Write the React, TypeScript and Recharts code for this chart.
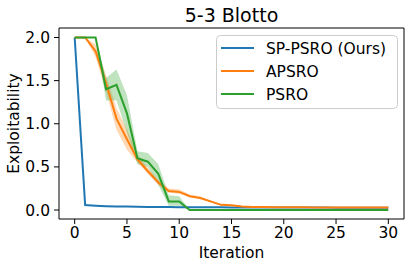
import React from 'react';
import { ComposedChart, Line, Area, XAxis, YAxis, ReferenceArea } from 'recharts';

const iterations = [0, 1, 2, 3, 4, 5, 6, 7, 8, 9, 10, 11, 12, 13, 14, 15, 16, 17, 18, 19, 20, 21, 22, 23, 24, 25, 26, 27, 28, 29, 30];

const spPsro = [2.0, 0.057, 0.05, 0.045, 0.042, 0.04, 0.038, 0.036, 0.035, 0.034, 0.033, 0.032, 0.032, 0.031, 0.031, 0.03, 0.03, 0.03, 0.029, 0.029, 0.029, 0.028, 0.028, 0.028, 0.028, 0.027, 0.027, 0.027, 0.027, 0.027, 0.027];
const spPsroLo = [2.0, 0.054, 0.047, 0.042, 0.04, 0.038, 0.036, 0.034, 0.033, 0.032, 0.031, 0.03, 0.03, 0.029, 0.029, 0.028, 0.028, 0.028, 0.027, 0.027, 0.027, 0.026, 0.026, 0.026, 0.026, 0.025, 0.025, 0.025, 0.025, 0.025, 0.025];
const spPsroHi = [2.0, 0.06, 0.053, 0.048, 0.044, 0.042, 0.04, 0.038, 0.037, 0.036, 0.035, 0.034, 0.034, 0.033, 0.033, 0.032, 0.032, 0.032, 0.031, 0.031, 0.031, 0.03, 0.03, 0.03, 0.03, 0.029, 0.029, 0.029, 0.029, 0.029, 0.029];

const apsro = [2.0, 2.0, 1.84, 1.47, 1.06, 0.82, 0.59, 0.45, 0.32, 0.22, 0.21, 0.16, 0.14, 0.1, 0.06, 0.055, 0.04, 0.036, 0.034, 0.033, 0.032, 0.031, 0.031, 0.03, 0.03, 0.029, 0.029, 0.029, 0.028, 0.028, 0.028];
const apsroLo = [2.0, 2.0, 1.77, 1.37, 0.93, 0.7, 0.55, 0.42, 0.29, 0.2, 0.19, 0.15, 0.13, 0.09, 0.055, 0.05, 0.035, 0.032, 0.031, 0.03, 0.029, 0.028, 0.028, 0.027, 0.027, 0.026, 0.026, 0.026, 0.025, 0.025, 0.025];
const apsroHi = [2.0, 2.0, 1.92, 1.56, 1.18, 0.94, 0.64, 0.49, 0.35, 0.25, 0.24, 0.18, 0.16, 0.11, 0.07, 0.06, 0.045, 0.04, 0.037, 0.036, 0.035, 0.034, 0.034, 0.033, 0.033, 0.032, 0.032, 0.032, 0.031, 0.031, 0.031];

const psro = [2.0, 2.0, 2.0, 1.4, 1.45, 1.12, 0.6, 0.56, 0.42, 0.1, 0.1, 0.0, 0.0, 0.0, 0.0, 0.0, 0.0, 0.0, 0.0, 0.0, 0.0, 0.0, 0.0, 0.0, 0.0, 0.0, 0.0, 0.0, 0.0, 0.0, 0.0];
const psroLo = [2.0, 2.0, 2.0, 1.27, 1.27, 0.9, 0.53, 0.5, 0.29, 0.05, 0.05, 0.0, 0.0, 0.0, 0.0, 0.0, 0.0, 0.0, 0.0, 0.0, 0.0, 0.0, 0.0, 0.0, 0.0, 0.0, 0.0, 0.0, 0.0, 0.0, 0.0];
const psroHi = [2.0, 2.0, 2.0, 1.53, 1.63, 1.33, 0.68, 0.66, 0.53, 0.17, 0.16, 0.0, 0.0, 0.0, 0.0, 0.0, 0.0, 0.0, 0.0, 0.0, 0.0, 0.0, 0.0, 0.0, 0.0, 0.0, 0.0, 0.0, 0.0, 0.0, 0.0];

const xTicks = [0, 5, 10, 15, 20, 25, 30];
const yTicks = [0, 0.5, 1.0, 1.5, 2.0];
const seriesNames = ['SP-PSRO (Ours)', 'APSRO', 'PSRO'];
const seriesColors = ['#1f77b4', '#ff7f0e', '#2ca02c'];
const titleText = '5-3 Blotto';
const xLabel = 'Iteration';
const yLabel = 'Exploitability';

const data = iterations.map((it, i) => ({
  it,
  sp: spPsro[i],
  spBand: [spPsroLo[i], spPsroHi[i]],
  ap: apsro[i],
  apBand: [apsroLo[i], apsroHi[i]],
  ps: psro[i],
  psBand: [psroLo[i], psroHi[i]],
}));

const FONT = 'DejaVu Sans, sans-serif';
const X_DOMAIN: [number, number] = [-1.5, 31.5];
const Y_DOMAIN: [number, number] = [-0.104, 2.11];

const LegendBox = () => (
  <svg width={182} height={74} style={{ position: 'absolute', left: 216, top: 35 }}>
    <rect x={0.5} y={0.5} width={181} height={73} rx={4} ry={4} fill="#fff" fillOpacity={0.8} stroke="#cccccc" strokeWidth={1} />
    {seriesNames.map((n, i) => (
      <g key={n}>
        <line x1={5} x2={38} y1={13 + i * 23} y2={13 + i * 23} stroke={seriesColors[i]} strokeWidth={2} />
        <text x={50} y={13 + i * 23 + 5.5} fontSize={15.5} fontFamily={FONT} fill="#000">{n}</text>
      </g>
    ))}
  </svg>
);

export default function App() {
  return (
    <div style={{ position: 'absolute', left: 0, top: 0, width: 411, height: 267, background: '#fff' }}>
      <svg width={411} height={30} style={{ position: 'absolute', left: 0, top: 0 }}>
        <text x={231.5} y={22} textAnchor="middle" fontSize={19} fontFamily={FONT} fill="#000">{titleText}</text>
      </svg>
      <ComposedChart width={411} height={267} data={data} margin={{ top: 28, right: 7, bottom: 0, left: 0 }}>
        <XAxis
          dataKey="it"
          type="number"
          domain={X_DOMAIN}
          ticks={xTicks}
          allowDataOverflow
          axisLine={false}
          tickLine={{ stroke: '#000' }}
          tickSize={5}
          tickMargin={3}
          height={48}
          tick={{ fill: '#000', fontSize: 15.5, fontFamily: FONT }}
          label={(props: any) => {
            const vb = props.viewBox || {};
            return (
              <text x={(vb.x ?? 59) + (vb.width ?? 345) / 2} y={258} textAnchor="middle" fontSize={15.5} fontFamily={FONT} fill="#000">{xLabel}</text>
            );
          }}
        />
        <YAxis
          type="number"
          domain={Y_DOMAIN}
          ticks={yTicks}
          allowDataOverflow
          axisLine={false}
          tickLine={{ stroke: '#000' }}
          tickSize={5}
          tickMargin={4}
          width={59}
          tickFormatter={(v: number) => v.toFixed(1)}
          tick={{ fill: '#000', fontSize: 15.5, fontFamily: FONT }}
          label={(props: any) => {
            const vb = props.viewBox || {};
            const cy = (vb.y ?? 28) + (vb.height ?? 191) / 2;
            return (
              <text x={19} y={cy} transform={`rotate(-90, 19, ${cy})`} textAnchor="middle" fontSize={15.5} fontFamily={FONT} fill="#000">{yLabel}</text>
            );
          }}
        />
        <Line dataKey="sp" type="linear" stroke={seriesColors[0]} strokeWidth={2} dot={false} isAnimationActive={false} />
        <Area dataKey="spBand" type="linear" stroke="none" fill={seriesColors[0]} fillOpacity={0.3} isAnimationActive={false} />
        <Line dataKey="ap" type="linear" stroke={seriesColors[1]} strokeWidth={2} dot={false} isAnimationActive={false} />
        <Area dataKey="apBand" type="linear" stroke="none" fill={seriesColors[1]} fillOpacity={0.3} isAnimationActive={false} />
        <Line dataKey="ps" type="linear" stroke={seriesColors[2]} strokeWidth={2} dot={false} isAnimationActive={false} />
        <Area dataKey="psBand" type="linear" stroke="none" fill={seriesColors[2]} fillOpacity={0.3} isAnimationActive={false} />
        <ReferenceArea x1={X_DOMAIN[0]} x2={X_DOMAIN[1]} y1={Y_DOMAIN[0]} y2={Y_DOMAIN[1]} fill="none" stroke="#000" strokeWidth={1} ifOverflow="visible" />
      </ComposedChart>
      <LegendBox />
    </div>
  );
}
